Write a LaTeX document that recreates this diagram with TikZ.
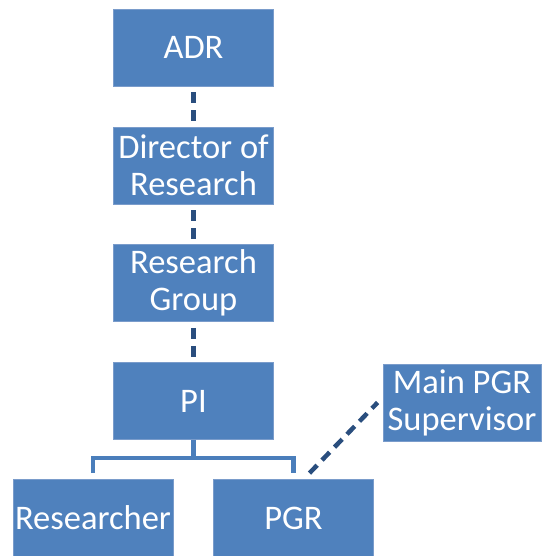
\documentclass[tikz,border=0pt]{standalone}
\usepackage{fontspec}
\setmainfont{Carlito}
\definecolor{boxfill}{HTML}{4F81BD}
\definecolor{boxborder}{HTML}{7A9CCB}
\definecolor{dashcol}{HTML}{2A4E7E}
\definecolor{brackcol}{HTML}{4A7EBB}
\begin{document}
\begin{tikzpicture}[x=1pt,y=-1pt,
  box/.style={draw=boxborder, line width=0.8pt, fill=boxfill, text=white, align=center,
    inner sep=0pt, minimum width=160pt, minimum height=77pt,
    font=\fontsize{34.5}{37}\selectfont},
  dashlink/.style={draw=dashcol, line width=4.5pt, dash pattern=on 11pt off 7pt},
  bracket/.style={draw=brackcol, line width=4.5pt}]
\useasboundingbox (0,0) rectangle (541,556);
\node[box] (adr) at (193.5,47.5) {ADR};
\node[box] (dir) at (193.5,165.5) {Director of\\Research};
\node[box] (rg) at (193.5,283) {Research\\Group};
\node[box] (pi) at (193.5,401) {PI};
\node[box] (res) at (93,518) {Researcher};
\node[box] (pgr) at (293.5,518) {PGR};
\node[box, minimum width=158pt] (sup) at (462,402.5) {Main PGR\\Supervisor};
\draw[dashlink] ([yshift=-6pt]adr.south) -- (dir.north);
\draw[dashlink] ([yshift=-6pt]dir.south) -- (rg.north);
\draw[dashlink] ([yshift=-6pt]rg.south) -- (pi.north);
\draw[bracket] (pi.south) -- ([yshift=-18pt]pi.south);
\draw[bracket] ([yshift=6pt]res.north) |- ([yshift=-18pt]pi.south) -| ([yshift=6pt]pgr.north);
\draw[dashlink] ([xshift=16pt,yshift=6pt]pgr.north) -- ([xshift=-5pt]sup.west);
\end{tikzpicture}
\end{document}
